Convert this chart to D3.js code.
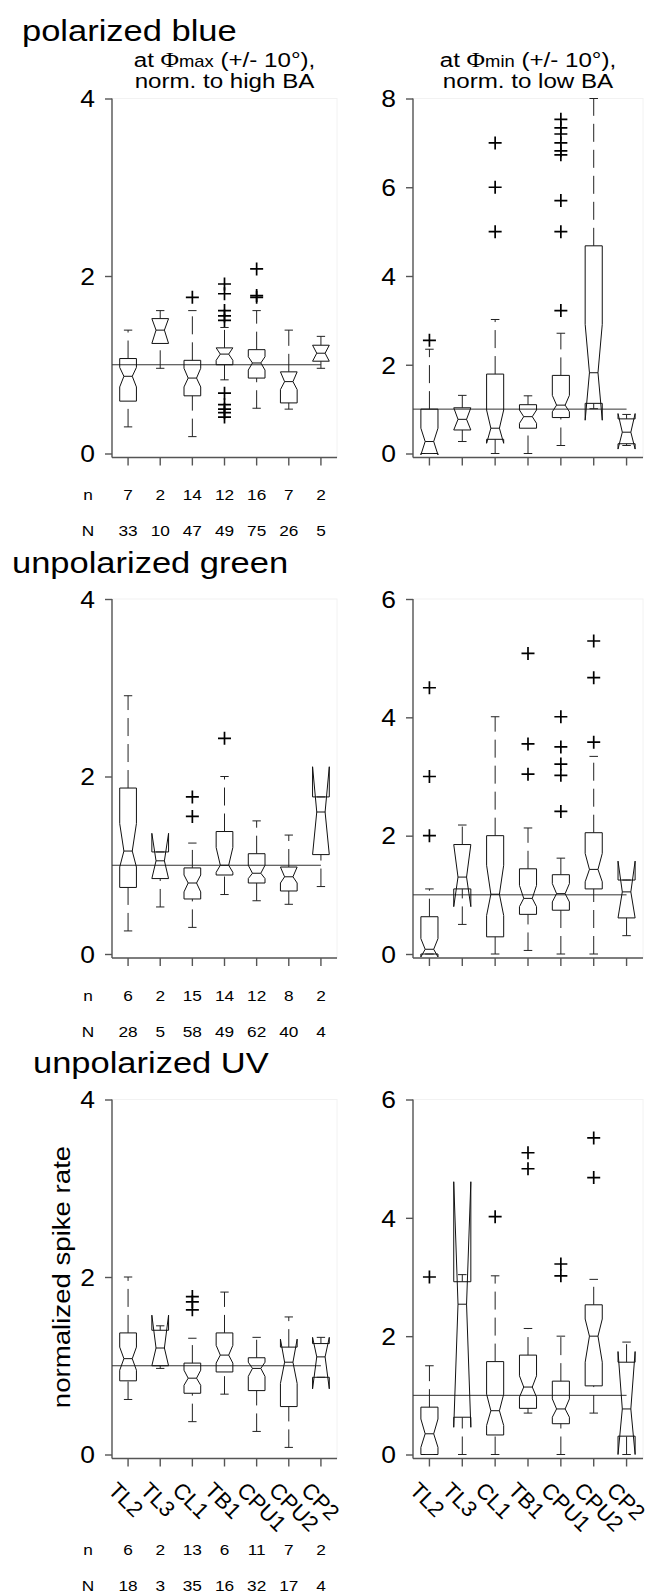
<!DOCTYPE html>
<html lang="en">
<head>
<meta charset="UTF-8">
<title>Normalized spike rate per cell type</title>
<script src="https://d3js.org/d3.v7.min.js"></script>
<style>
  body { margin: 0; background: #fff; }
  svg text { font-family: "Liberation Sans", Arial, Helvetica, sans-serif; fill: #000; }
  .frame { fill: none; stroke: #f2f2f2; }
  .axisline { stroke: #555; stroke-width: 1.4; }
  .ref { stroke: #333; stroke-width: 1; }
  .box { fill: none; stroke: #111; stroke-width: 1; }
  .whisk { fill: none; stroke: #222; stroke-width: 1; stroke-dasharray: 18, 8; }
  .cap { stroke: #222; stroke-width: 1; }
  .outl { stroke: #000; stroke-width: 1.7; fill: none; }
</style>
</head>
<body>
<svg width="651" height="1593"></svg>
<script>
const SX = 1.15; // the original lettering is a little wider than Arial

const cells = ["TL2", "TL3", "CL1", "TB1", "CPU1", "CPU2", "CP2"];

const nBlue = [7, 2, 14, 12, 16, 7, 2];
const NBlue = [33, 10, 47, 49, 75, 26, 5];
const nGreen = [6, 2, 15, 14, 12, 8, 2];
const NGreen = [28, 5, 58, 49, 62, 40, 4];
const nUV = [6, 2, 13, 6, 11, 7, 2];
const NUV = [18, 3, 35, 16, 32, 17, 4];

// one row per cell: [lower whisker, q1, notch low, median, notch high, q3, upper whisker]
const blueMax = [
  [0.30, 0.59, 0.75, 0.87, 0.97, 1.07, 1.39],
  [0.96, 1.24, 1.24, 1.39, 1.52, 1.52, 1.61],
  [0.19, 0.65, 0.75, 0.85, 0.96, 1.05, 1.61],
  [0.83, 1.00, 1.05, 1.12, 1.19, 1.19, 1.42],
  [0.51, 0.85, 0.94, 1.02, 1.09, 1.17, 1.61],
  [0.50, 0.57, 0.72, 0.81, 0.92, 0.92, 1.39],
  [0.96, 1.04, 1.04, 1.13, 1.22, 1.22, 1.32]
];
const blueMaxOut = [[], [], [1.76], [1.91, 1.80, 1.61, 1.55, 1.50, 0.68, 0.55, 0.50, 0.46, 0.41], [2.08, 1.78, 1.76], [], []];

const blueMin = [
  [0.00, 0.00, -0.03, 0.27, 0.57, 1.00, 2.35],
  [0.27, 0.53, 0.53, 0.77, 1.03, 1.03, 1.31],
  [0.00, 0.32, 0.23, 0.57, 0.98, 1.79, 3.02],
  [0.00, 0.57, 0.68, 0.83, 0.98, 1.10, 1.30],
  [0.18, 0.81, 0.94, 1.09, 1.31, 1.76, 2.71],
  [1.01, 1.13, 0.75, 1.82, 2.91, 4.68, 8.00],
  [0.18, 0.22, 0.10, 0.48, 0.90, 0.78, 0.88]
];
const blueMinOut = [[2.55], [], [7.0, 6.0, 5.0], [], [7.53, 7.34, 7.20, 7.00, 6.82, 6.73, 5.70, 5.00, 3.22], [], []];

const greenMax = [
  [0.26, 0.75, 0.98, 1.16, 1.47, 1.87, 2.91],
  [0.53, 0.85, 0.85, 1.05, 1.36, 1.15, 1.15],
  [0.30, 0.62, 0.70, 0.80, 0.89, 0.97, 1.25],
  [0.67, 0.89, 0.92, 1.00, 1.20, 1.38, 2.00],
  [0.60, 0.80, 0.85, 0.91, 1.00, 1.13, 1.50],
  [0.56, 0.71, 0.80, 0.87, 0.98, 0.98, 1.34],
  [0.76, 1.12, 1.12, 1.60, 2.11, 1.77, 1.77]
];
const greenMaxOut = [[], [], [1.77, 1.55], [2.43], [], [], []];

const greenMin = [
  [0.00, 0.00, -0.05, 0.08, 0.26, 0.63, 1.10],
  [0.50, 1.10, 0.80, 1.30, 1.85, 1.85, 2.18],
  [0.00, 0.29, 0.65, 1.01, 1.50, 2.00, 4.01],
  [0.06, 0.67, 0.80, 0.94, 1.16, 1.44, 2.13],
  [0.00, 0.74, 0.88, 1.02, 1.19, 1.34, 1.62],
  [0.00, 1.10, 1.22, 1.43, 1.70, 2.05, 3.34],
  [0.31, 0.61, 0.61, 1.05, 1.57, 1.25, 1.25]
];
const greenMinOut = [[4.5, 3.0, 2.0], [], [], [5.08, 3.55, 3.04], [4.01, 3.50, 3.21, 3.02, 2.41], [5.29, 4.67, 3.58], []];

const uvMax = [
  [0.62, 0.83, 0.95, 1.08, 1.21, 1.37, 2.00],
  [0.97, 1.00, 1.00, 1.20, 1.57, 1.40, 1.45],
  [0.37, 0.69, 0.78, 0.86, 0.95, 1.03, 1.31],
  [0.68, 0.93, 1.03, 1.12, 1.23, 1.37, 1.83],
  [0.26, 0.72, 0.88, 0.97, 1.04, 1.09, 1.32],
  [0.08, 0.54, 0.80, 1.04, 1.30, 1.21, 1.55],
  [0.87, 0.87, 0.74, 1.10, 1.32, 1.25, 1.32]
];
const uvMaxOut = [[], [], [1.78, 1.72, 1.63], [], [], [], []];

const uvMin = [
  [0.00, 0.00, 0.12, 0.35, 0.60, 0.80, 1.50],
  [0.00, 0.63, 0.46, 2.54, 4.61, 2.92, 3.04],
  [0.00, 0.33, 0.49, 0.74, 1.02, 1.57, 3.02],
  [0.70, 0.78, 0.97, 1.14, 1.33, 1.68, 2.13],
  [0.00, 0.52, 0.63, 0.77, 0.94, 1.24, 2.00],
  [0.70, 1.16, 1.56, 2.00, 2.29, 2.53, 2.96],
  [0.00, 0.31, 0.00, 0.77, 1.74, 1.56, 1.90]
];
const uvMinOut = [[3.0], [], [4.02], [5.10, 4.83], [3.22, 3.02], [5.35, 4.68], []];

const svg = d3.select("svg");

function txt(g, x, y, s, size, anchor, rot, sx) {
  return g.append("text")
    .attr("transform", `translate(${x},${y}) rotate(${rot || 0}) scale(${sx || SX},1)`)
    .attr("font-size", size)
    .attr("text-anchor", anchor || "start")
    .text(s);
}

function panel(xr, top, ymax, ticks, stats, outs, names) {
  const base = top + 359;
  const x = d3.scaleBand().domain(cells).range(xr);
  const y = d3.scaleLinear().domain([0, ymax]).range([top + 355, top]);
  const g = svg.append("g");
  const cx = c => x(c) + x.bandwidth() / 2;

  g.append("rect").attr("class", "frame")
    .attr("x", xr[0]).attr("y", top).attr("width", xr[1] - xr[0]).attr("height", base - top);

  const ya = g.append("g").attr("transform", `translate(${xr[0]},0)`)
    .call(d3.axisLeft(y).tickValues(ticks).tickSize(7).tickPadding(6).tickFormat(d3.format("d")));
  ya.select(".domain").remove();
  ya.attr("color", "#555").attr("font-size", 23);
  ya.selectAll(".tick line").attr("stroke-width", 1.4);
  ya.selectAll(".tick text").attr("transform", `scale(${SX},1)`).attr("x", -17 / SX).attr("dy", "0.36em");

  const xa = g.append("g").attr("transform", `translate(0,${base})`)
    .call(d3.axisBottom(x).tickSize(8).tickSizeOuter(0));
  xa.select(".domain").remove();
  xa.attr("color", "#555");
  xa.selectAll(".tick line").attr("stroke-width", 1.4);
  xa.selectAll(".tick text").remove();
  if (names) {
    cells.forEach(c => txt(g, cx(c) - 21, base + 33, c, 22, "start", 45, 1));
  }

  g.append("line").attr("class", "axisline").attr("x1", xr[0]).attr("x2", xr[0]).attr("y1", top).attr("y2", base);
  g.append("line").attr("class", "axisline").attr("x1", xr[0]).attr("x2", xr[1]).attr("y1", base).attr("y2", base);

  g.append("line").attr("class", "ref")
    .attr("x1", xr[0]).attr("x2", cx(cells[cells.length - 1]))
    .attr("y1", y(1)).attr("y2", y(1));

  const hw = x.bandwidth() * 0.26, cw = hw / 2;
  stats.forEach((s, i) => {
    const [lo, q1, nl, md, nh, q3, hi] = s;
    const c = cx(cells[i]), L = c - hw, R = c + hw, iL = c - hw / 2, iR = c + hw / 2;
    const p = d3.path();
    p.moveTo(L, y(q1)); p.lineTo(L, y(nl)); p.lineTo(iL, y(md)); p.lineTo(L, y(nh)); p.lineTo(L, y(q3));
    p.lineTo(R, y(q3)); p.lineTo(R, y(nh)); p.lineTo(iR, y(md)); p.lineTo(R, y(nl)); p.lineTo(R, y(q1));
    p.closePath();
    g.append("path").attr("class", "box").attr("d", p.toString());
    g.append("line").attr("class", "box").attr("x1", iL).attr("x2", iR).attr("y1", y(md)).attr("y2", y(md));
    g.append("line").attr("class", "whisk").attr("x1", c).attr("x2", c).attr("y1", y(q3)).attr("y2", y(hi));
    g.append("line").attr("class", "whisk").attr("x1", c).attr("x2", c).attr("y1", y(lo)).attr("y2", y(q1));
    [lo, hi].forEach(v => g.append("line").attr("class", "cap")
      .attr("x1", c - cw).attr("x2", c + cw).attr("y1", y(v)).attr("y2", y(v)));
    outs[i].forEach(v => {
      const py = y(v), r = 6.5;
      g.append("path").attr("class", "outl")
        .attr("d", `M${c - r},${py}H${c + r}M${c},${py - r}V${py + r}`);
    });
  });
  return { x, base };
}

function counts(top, dy, n, N) {
  const x = d3.scaleBand().domain(cells).range([112, 337]);
  const g = svg.append("g");
  const base = top + 359, fs = 15;
  [["n", n, dy], ["N", N, dy + 36]].forEach(([lab, vals, off]) => {
    const yy = base + off + 0.36 * fs;
    txt(g, 88, yy, lab, fs, "middle");
    vals.forEach((v, i) => txt(g, x(cells[i]) + x.bandwidth() / 2, yy, v, fs, "middle"));
  });
}

const LX = [112, 337], RX = [413, 643];
const tops = [98.5, 599, 1099.5];

// row 1 : polarized blue
txt(svg, 22, 41, "polarized blue", 30);
[[224.5, "at ", "max"], [528, "at ", "min"]].forEach(([cx, a, sub]) => {
  const t = svg.append("text")
    .attr("transform", `translate(${cx},67) scale(${SX},1)`)
    .attr("text-anchor", "middle").attr("font-size", 21);
  t.append("tspan").text(a);
  t.append("tspan").attr("font-family", "'Liberation Serif', 'Times New Roman', serif").attr("font-size", 22).text("\u03A6");
  t.append("tspan").attr("font-size", 16).text(sub);
  t.append("tspan").text(" (+/- 10\u00B0),");
});
txt(svg, 224.5, 88, "norm. to high BA", 21, "middle");
txt(svg, 528, 88, "norm. to low BA", 21, "middle");
panel(LX, tops[0], 4, [0, 2, 4], blueMax, blueMaxOut, false);
panel(RX, tops[0], 8, [0, 2, 4, 6, 8], blueMin, blueMinOut, false);
counts(tops[0], 37, nBlue, NBlue);

// row 2 : unpolarized green
txt(svg, 12, 573, "unpolarized green", 30);
panel(LX, tops[1], 4, [0, 2, 4], greenMax, greenMaxOut, false);
panel(RX, tops[1], 6, [0, 2, 4, 6], greenMin, greenMinOut, false);
counts(tops[1], 38, nGreen, NGreen);

// row 3 : unpolarized UV
txt(svg, 33, 1073, "unpolarized UV", 30);
panel(LX, tops[2], 4, [0, 2, 4], uvMax, uvMaxOut, true);
panel(RX, tops[2], 6, [0, 2, 4, 6], uvMin, uvMinOut, true);
counts(tops[2], 91.5, nUV, NUV);

txt(svg, 70, 1277, "normalized spike rate", 24, "middle", -90);
</script>
</body>
</html>
